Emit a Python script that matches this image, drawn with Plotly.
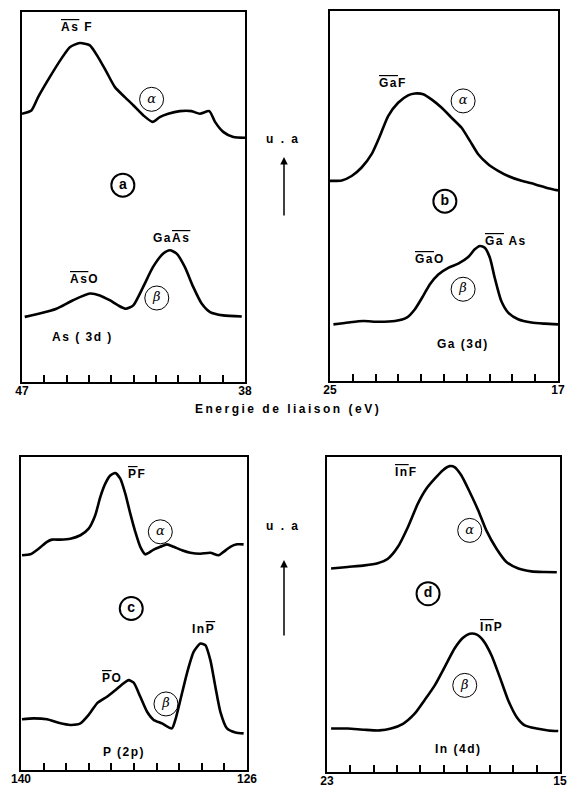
import plotly.graph_objects as go

# (a) As (3d) : energy in eV, intensity in arbitrary units (0-100)
a_alpha_e = [47.0, 46.62, 46.35, 45.88, 45.41, 45.07, 44.67, 44.26, 43.93, 43.59, 43.25, 42.85, 42.51,
             42.11, 41.73, 41.44, 41.10, 40.63, 40.16, 39.82, 39.44, 39.21, 38.88, 38.47, 38.0]
a_alpha_i = [72.5, 73.4, 77.0, 82.4, 87.4, 90.5, 91.6, 91.0, 87.8, 83.8, 79.7, 77.0, 74.8,
             72.1, 70.3, 71.6, 72.5, 73.2, 73.2, 72.5, 73.2, 70.3, 67.6, 66.2, 66.0]
a_beta_e = [46.89, 46.29, 45.61, 44.94, 44.26, 43.86, 43.46, 43.12, 42.81, 42.51, 42.11, 41.71, 41.30,
            41.03, 40.76, 40.43, 40.09, 39.75, 39.41, 38.88, 38.13]
a_beta_i = [17.6, 18.5, 19.8, 22.1, 23.9, 23.4, 22.1, 20.7, 19.8, 20.7, 25.7, 31.1, 34.7,
            35.6, 34.7, 31.1, 25.7, 21.2, 18.9, 18.0, 17.7]

# (b) Ga (3d)
b_alpha_e = [25.0, 24.59, 24.24, 23.89, 23.54, 23.25, 22.96, 22.61, 22.26, 22.02, 21.73, 21.44, 21.09,
             20.74, 20.39, 20.09, 19.80, 19.45, 19.10, 18.75, 18.28, 17.82, 17.35, 17.0]
b_alpha_i = [54.1, 54.2, 55.4, 57.7, 61.3, 66.2, 71.6, 75.2, 77.2, 77.7, 77.5, 76.1, 73.9,
             71.2, 68.5, 64.9, 61.3, 58.6, 56.8, 55.4, 54.1, 53.2, 52.1, 51.5]
b_beta_e = [24.88, 24.36, 23.83, 23.31, 22.72, 22.31, 22.02, 21.73, 21.50, 21.20, 20.85, 20.50, 20.15,
            19.92, 19.74, 19.57, 19.39, 19.22, 18.99, 18.75, 18.40, 17.93, 17.47, 17.0]
b_beta_i = [15.3, 15.8, 16.2, 16.0, 16.2, 17.1, 19.4, 23.0, 26.1, 28.8, 30.6, 31.7, 33.5,
            35.6, 36.5, 36.0, 33.3, 27.9, 21.6, 18.5, 16.7, 15.8, 15.5, 15.3]

# (c) P (2p)
c_alpha_e = [139.94, 139.42, 138.91, 138.39, 138.08, 137.56, 136.94, 136.32, 135.81, 135.40, 135.09,
             134.78, 134.47, 134.16, 133.85, 133.54, 133.23, 132.92, 132.61, 132.30, 132.09, 131.78,
             131.37, 130.96, 130.54, 130.03, 129.51, 128.89, 128.27, 127.76, 127.45, 127.03, 126.62, 126.21]
c_alpha_i = [68.6, 68.9, 70.7, 72.9, 73.6, 73.6, 73.9, 75.0, 77.1, 81.4, 87.2,
             91.5, 94.1, 94.9, 93.1, 88.3, 81.9, 76.1, 71.3, 68.9, 69.4, 70.4,
             71.3, 72.1, 71.3, 70.2, 69.4, 69.1, 69.4, 68.6, 69.7, 71.3, 72.1, 72.1]
c_beta_e = [139.94, 139.22, 138.39, 137.67, 136.94, 136.32, 135.81, 135.29, 134.67, 134.16, 133.64,
            133.33, 133.02, 132.61, 132.19, 131.78, 131.27, 130.65, 130.44, 130.13, 129.72, 129.30,
            128.89, 128.58, 128.27, 127.96, 127.65, 127.24, 126.72, 126.21]
c_beta_i = [16.2, 16.5, 16.2, 15.1, 14.4, 14.9, 17.6, 21.3, 23.4, 25.5, 27.7,
            28.7, 27.9, 23.4, 18.6, 16.0, 14.9, 13.3, 16.0, 22.3, 30.9, 37.8,
            40.4, 39.9, 35.1, 26.6, 18.6, 13.3, 12.0, 11.7]

# (d) In (4d)
d_alpha_e = [22.86, 22.29, 21.71, 21.26, 20.91, 20.57, 20.22, 19.88, 19.59, 19.30, 19.02, 18.79,
             18.62, 18.39, 18.10, 17.81, 17.53, 17.18, 16.84, 16.43, 15.98, 15.52, 15.11]
d_alpha_i = [64.6, 65.1, 65.6, 66.3, 67.7, 71.4, 77.8, 85.2, 89.9, 93.1, 95.8, 97.1,
             96.8, 94.2, 88.9, 83.1, 76.7, 70.9, 66.7, 64.6, 63.7, 63.5, 63.4]
d_beta_e = [22.86, 22.29, 21.71, 21.20, 20.80, 20.39, 19.99, 19.65, 19.30, 18.96, 18.62, 18.33,
            18.10, 17.87, 17.64, 17.35, 17.07, 16.78, 16.49, 16.21, 15.80, 15.40, 15.06]
d_beta_i = [13.8, 13.8, 13.4, 13.2, 13.8, 15.3, 18.5, 22.8, 27.5, 33.3, 39.2, 42.6,
            43.9, 43.7, 41.8, 37.0, 30.2, 22.8, 17.5, 14.8, 13.8, 13.2, 13.0]

# energy limits of each panel (left, right) and their end labels
a_limits = [47, 38]
b_limits = [25, 17]
c_limits = [140, 126]
d_limits = [23, 15]
x_title = "Energie de liaison (eV)"
y_title = "u . a"

BOLD = "Liberation Sans"
# the page body keeps its default 8px margin, so the figure is drawn 8px in
OFF = 8
W, H = 576 - OFF, 788 - OFF


def fx(px):
    return (px - OFF) / W


def fy(py):
    return 1 - (py - OFF) / H


def ol(s):
    return '<span style="text-decoration:overline">' + s + '</span>'


def spaced(s, px=1.5):
    return f'<span style="letter-spacing:{px}px">{s}</span>'


panels = [
    dict(ax="", box=(22, 245, 12, 382), lim=a_limits,
         curves=[(a_alpha_e, a_alpha_i), (a_beta_e, a_beta_i)], letter="a", let_pos=(42.93, 53.2),
         alpha=(41.77, 76.4), beta=(41.56, 22.7),
         labels=[(ol("As") + " F", 44.80, 95.9), ("Ga" + ol("As"), 40.95, 38.9),
                 (ol("As") + "O", 44.46, 27.8), ("As ( 3d )", 44.54, 12.2)]),
    dict(ax="2", box=(330, 558, 11, 381), lim=b_limits,
         curves=[(b_alpha_e, b_alpha_i), (b_beta_e, b_beta_i)], letter="b", let_pos=(20.97, 48.6),
         alpha=(20.33, 75.7), beta=(20.33, 24.8),
         labels=[(ol("Ga") + "F", 22.78, 80.6), (ol("Ga") + "O", 21.50, 32.9),
                 (ol("Ga") + " As", 18.81, 37.8), ("Ga (3d)", 20.33, 9.9)]),
    dict(ax="3", box=(21, 247, 457, 770), lim=c_limits,
         curves=[(c_alpha_e, c_alpha_i), (c_beta_e, c_beta_i)], letter="c", let_pos=(133.17, 51.6),
         alpha=(131.37, 76.1), beta=(131.02, 21.1),
         labels=[(ol("P") + "F", 132.81, 94.7), ("In" + ol("P"), 128.68, 45.2),
                 (ol("P") + "O", 134.36, 29.3), ("P (2p)", 133.64, 5.9)]),
    dict(ax="4", box=(327, 560, 457, 772), lim=d_limits,
         curves=[(d_alpha_e, d_alpha_i), (d_beta_e, d_beta_i)], letter="d", let_pos=(19.53, 56.6),
         alpha=(18.10, 76.7), beta=(18.27, 27.5),
         labels=[(ol("In") + "F", 20.28, 95.2), (ol("In") + "P", 17.35, 46.0),
                 ("In (4d)", 18.50, 7.4)]),
]


def add_panel(fig, p):
    xa, ya = "x" + p["ax"], "y" + p["ax"]
    for e, i in p["curves"]:
        fig.add_trace(go.Scatter(x=e, y=i, mode="lines", xaxis=xa, yaxis=ya,
                                 line=dict(color="black", width=2.6, shape="spline", smoothing=0.6)))
    # circled greek labels
    for sym, (x, y) in [("α", p["alpha"]), ("β", p["beta"])]:
        fig.add_trace(go.Scatter(x=[x], y=[y], mode="markers+text", text=[sym], xaxis=xa, yaxis=ya,
                                 textposition="middle center",
                                 textfont=dict(family="DejaVu Serif", size=13, style="italic", color="black"),
                                 marker=dict(symbol="circle-open", size=24, color="black", line=dict(width=1))))
    x, y = p["let_pos"]
    fig.add_trace(go.Scatter(x=[x], y=[y], mode="markers+text", text=[p["letter"]], xaxis=xa, yaxis=ya,
                             textposition="middle center",
                             textfont=dict(family=BOLD, size=14, weight="bold", color="black"),
                             marker=dict(symbol="circle-open", size=23, color="black", line=dict(width=2))))
    for txt, x, y in p["labels"]:
        fig.add_annotation(x=x, y=y, xref=xa, yref=ya, text=spaced(txt), showarrow=False,
                           font=dict(family=BOLD, size=12, weight="bold", color="black"))
    lo, hi = p["lim"]
    step = (hi - lo) / 10
    ticks = [lo + k * step for k in range(11)]
    ttext = [str(lo)] + [""] * 9 + [str(hi)]
    left, right, top, bottom = p["box"]
    key = p["ax"]
    fig.update_layout(**{
        "xaxis" + key: dict(domain=[fx(left), fx(right)], range=[lo, hi], anchor=ya, showline=True,
                            mirror=True, linecolor="black", linewidth=2, ticks="inside", ticklen=7,
                            tickwidth=1.5, tickcolor="black", tickvals=ticks, ticktext=ttext,
                            showgrid=False, zeroline=False, automargin=False, ticklabelstandoff=-3,
                            tickfont=dict(family=BOLD, size=12, weight="bold", color="black")),
        "yaxis" + key: dict(domain=[fy(bottom), fy(top)], range=[0, 100], anchor=xa, showline=True,
                            mirror=True, linecolor="black", linewidth=2, showticklabels=False, ticks="",
                            showgrid=False, zeroline=False, automargin=False),
    })


def main() -> None:
    fig = go.Figure()
    for p in panels:
        add_panel(fig, p)

    fig.add_annotation(x=fx(288), y=fy(409), xref="paper", yref="paper", showarrow=False,
                       text=spaced(x_title, 2.5), font=dict(family=BOLD, size=12, weight="bold", color="black"))
    for ty, hy, tail in [(130, 157, 60), (535, 560, 77)]:
        fig.add_annotation(x=fx(283), y=fy(ty), xref="paper", yref="paper", showarrow=False,
                           text=spaced(y_title, 2), font=dict(family=BOLD, size=12, weight="bold", color="black"))
        fig.add_annotation(x=fx(284), y=fy(hy), xref="paper", yref="paper", text="",
                           showarrow=True, ax=0, ay=tail, arrowhead=2, arrowsize=1, arrowwidth=1.5,
                           arrowcolor="black")

    fig.update_layout(width=W, height=H, margin=dict(l=0, r=0, t=0, b=0), showlegend=False,
                      plot_bgcolor="white", paper_bgcolor="white")
    fig.write_html("out.html")


if __name__ == '__main__':
    main()
